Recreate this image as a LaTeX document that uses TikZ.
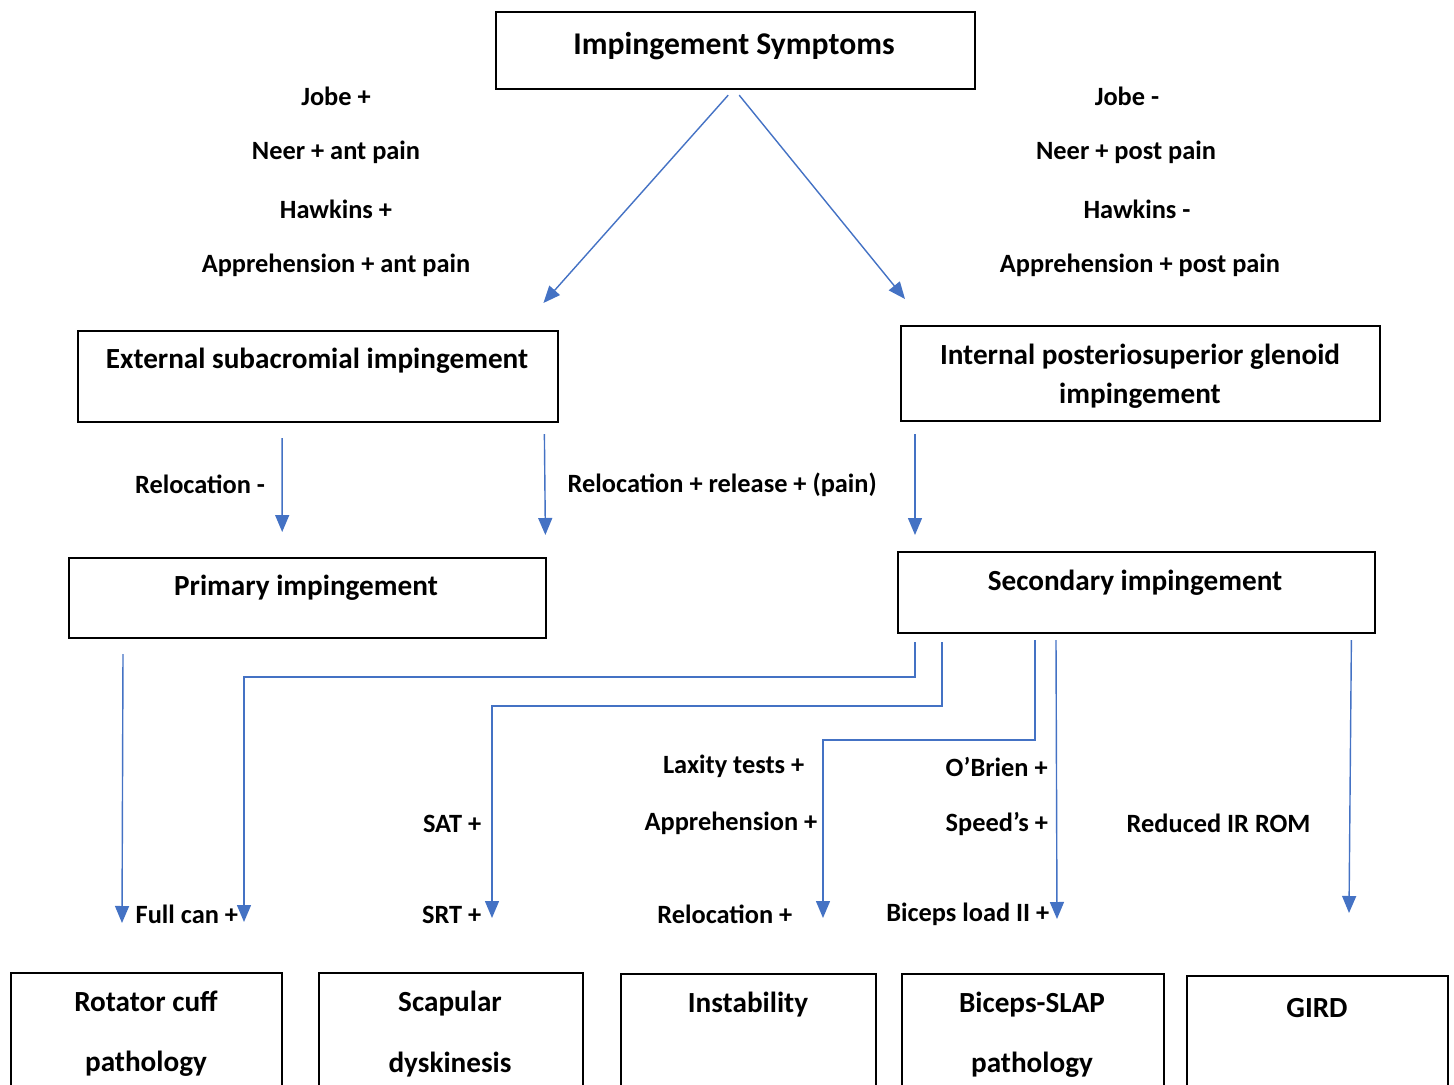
\documentclass[tikz,border=0pt]{standalone}
\usepackage{fontspec}
\setmainfont{Carlito}
\usepackage{tikz}
\usetikzlibrary{positioning,arrows.meta,calc}
\definecolor{linkblue}{RGB}{68,114,196}
\tikzset{
  box/.style={draw=black, line width=0.6pt, inner sep=0pt, anchor=north west},
  titletext/.style={font=\fontsize{9}{11}\selectfont\bfseries, inner sep=0pt, yshift=-0.02cm},
  boxtext/.style={font=\fontsize{8.3}{11.1}\selectfont\bfseries, align=center, inner sep=0pt, yshift=-0.02cm},
  tailtext/.style={font=\fontsize{8.3}{17.1}\selectfont\bfseries, align=center, inner sep=0pt, yshift=-0.02cm},
  testlbl/.style={font=\fontsize{7.5}{9}\selectfont\bfseries, inner sep=0pt, yshift=-0.015cm},
  arr/.style={-{Triangle[width=0.14cm,length=0.17cm]}, draw=linkblue, line width=0.4pt}
}
\begin{document}
\begin{tikzpicture}[x=0.01cm, y=-0.01cm]
  \useasboundingbox (0,0) rectangle (1454,1084);
  \clip (0,0) rectangle (1454,1084);

  % Top box
  \node[box, minimum width=4.79cm, minimum height=0.77cm] (symptoms) at (495,11) {};
  \node[titletext] (symptomstxt) at (734,44) {Impingement Symptoms};

  % Test lists beside the top arrows
  \foreach \y/\t [count=\i] in {95/Jobe +, 151/Neer + ant pain, 208/Hawkins +, 264/Apprehension + ant pain}
    \node[testlbl] (extlbl\i) at (336,\y) {\t};
  \foreach \x/\y/\t [count=\i] in {1127/95/Jobe -, 1126/151/Neer + post pain, 1137/208/Hawkins -, 1140/264/Apprehension + post pain}
    \node[testlbl] (intlbl\i) at (\x,\y) {\t};

  % Second row
  \node[box, minimum width=4.80cm, minimum height=0.91cm] (ext) at (77,330) {};
  \node[boxtext] (exttxt) at (317,359) {External subacromial impingement};
  \node[box, minimum width=4.79cm, minimum height=0.95cm] (int) at (900,325) {};
  \node[boxtext] (inttxt) at (1140,374.5) {Internal posteriosuperior glenoid\\impingement};

  \draw[arr] ($(symptoms.south)+(-7.5,5)$) -- ($(ext.north east)+(-16,-27)$);
  \draw[arr] ($(symptoms.south)+(3.5,5)$) -- ($(int.north west)+(5,-26)$);

  % Third row
  \node[box, minimum width=4.77cm, minimum height=0.80cm] (prim) at (68,557) {};
  \node[boxtext] (primtxt) at (306,586) {Primary impingement};
  \node[box, minimum width=4.77cm, minimum height=0.81cm] (sec) at (897,551) {};
  \node[boxtext] (sectxt) at (1135,581) {Secondary impingement};

  \draw[arr] ($(ext.south)+(-36,15)$) -- ($(prim.north)+(-25.5,-25)$);
  \draw[arr] ($(ext.south east)+(-15,11)$) -- ($(prim.north east)+(-2,-22)$);
  \draw[arr] ($(int.south west)+(15,12)$) -- ($(sec.north west)+(18,-16)$);
  \node[testlbl] (relneg) at (200,483) {Relocation -};
  \node[testlbl, anchor=west] (relpos) at (567,483) {Relocation + release + (pain)};

  % Bottom row
  \node[box, minimum width=2.71cm, minimum height=1.4cm] (rc) at (10,972) {};
  \node[tailtext] (rctxt) at (146,1032) {Rotator cuff\\pathology};
  \node[box, minimum width=2.64cm, minimum height=1.4cm] (sd) at (318,972) {};
  \node[tailtext] (sdtxt) at (450,1032) {Scapular\\dyskinesis};
  \node[box, minimum width=2.55cm, minimum height=1.4cm] (inst) at (620,973) {};
  \node[tailtext] (insttxt) at (748,1003) {Instability};
  \node[box, minimum width=2.62cm, minimum height=1.4cm] (slap) at (901,973) {};
  \node[tailtext] (slaptxt) at (1032,1033) {Biceps-SLAP\\pathology};
  \node[box, minimum width=2.61cm, minimum height=1.4cm] (gird) at (1186,975) {};
  \node[tailtext] (girdtxt) at (1317,1006) {GIRD};

  % Connectors to the bottom row
  \draw[arr] ($(prim.south west)+(55,15)$) -- ($(rc.north west)+(112,-49)$);
  \draw[arr] ($(sec.south west)+(18,8)$) -- ++(0,35) -| ($(rc.north west)+(234,-50)$);
  \draw[arr] ($(sec.south west)+(45,8)$) -- ++(0,64) -| ($(sd.north west)+(174,-54)$);
  \draw[arr] ($(sec.south west)+(138,6)$) -- ++(0,100) -| ($(inst.north west)+(203,-55)$);
  \draw[arr] ($(sec.south west)+(159,6)$) -- ($(slap.north west)+(156,-54)$);
  \draw[arr] ($(sec.south east)+(-25,6)$) -- ($(gird.north west)+(163,-62)$);

  % Test labels on the lower connectors
  \node[testlbl, anchor=west] (fullcan) at (135,913) {Full can +};
  \node[testlbl, anchor=east] (sat) at (482,822) {SAT +};
  \node[testlbl, anchor=east] (srt) at (482,913) {SRT +};
  \node[testlbl, anchor=east] (laxity) at (805,765) {Laxity tests +};
  \node[testlbl, anchor=east] (appr) at (818,822) {Apprehension +};
  \node[testlbl, anchor=east] (reloc) at (793,913) {Relocation +};
  \node[testlbl, anchor=west] (obrien) at (945,765) {O’Brien +};
  \node[testlbl, anchor=west] (speeds) at (945,822) {Speed’s +};
  \node[testlbl, anchor=east] (biceps) at (1050,913) {Biceps load II +};
  \node[testlbl, anchor=west] (irrom) at (1126,822) {Reduced IR ROM};
\end{tikzpicture}
\end{document}
